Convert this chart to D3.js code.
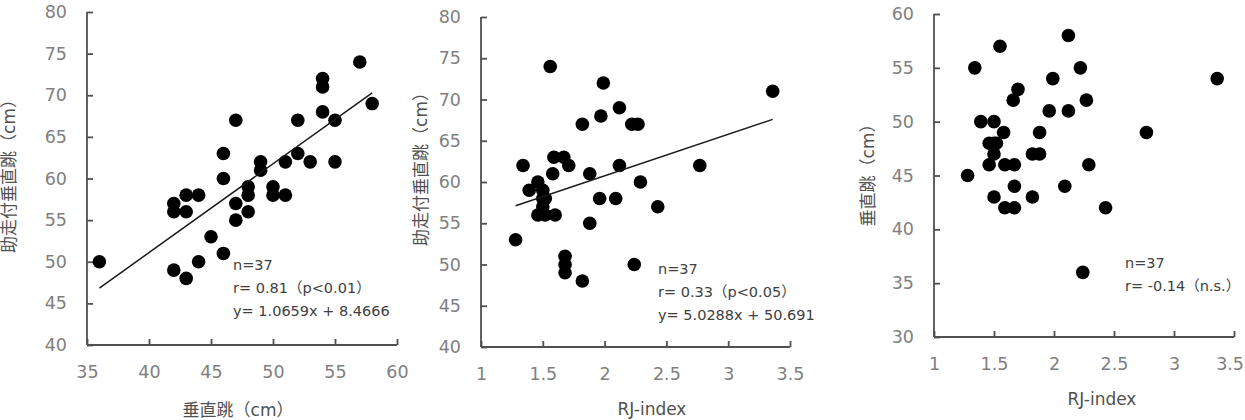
<!DOCTYPE html>
<html lang="ja">
    <head>
        <meta charset="UTF-8" />
        <title>垂直跳・助走付垂直跳・RJ-index 散布図</title>
        <script src="https://d3js.org/d3.v7.min.js"></script>
        <style>
            body { margin: 0; background: #fff; }
            svg { display: block; font-family: "DejaVu Sans", "Noto Sans CJK JP", sans-serif; }
            .tick text { fill: #808080; font-size: 17.5px; }
            .axis path, .axis line { stroke: #505050; stroke-width: 1.8px; }
            .note { fill: #404040; font-size: 14.5px; }
            .label { fill: #505050; font-size: 17px; }
        </style>
    </head>
    <body>
        <svg width="1245" height="420"></svg>

        <script>
            const W = 1245;

            // 垂直跳 vs 助走付垂直跳
            const vj1 = [36, 42, 42, 42, 43, 43, 43, 44, 44, 45, 46, 46, 46, 47, 47, 47, 48, 48, 48, 49, 49, 50, 50, 51, 51, 52, 52, 53, 54, 54, 54, 55, 55, 57, 58];
            const rvj1 = [50, 57, 56, 49, 58, 56, 48, 58, 50, 53, 63, 60, 51, 67, 57, 55, 59, 58, 56, 62, 61, 59, 58, 62, 58, 67, 63, 62, 72, 71, 68, 67, 62, 74, 69];

            // RJ-index vs 助走付垂直跳
            const rj2 = [1.28, 1.34, 1.39, 1.46, 1.46, 1.5, 1.5, 1.52, 1.5, 1.52, 1.56, 1.58, 1.59, 1.6, 1.67, 1.71, 1.68, 1.68, 1.68, 1.82, 1.82, 1.88, 1.88, 1.96, 1.97, 1.99, 2.09, 2.12, 2.12, 2.22, 2.27, 2.24, 2.29, 2.43, 2.77, 3.36];
            const rvj2 = [53, 62, 59, 60, 56, 59, 58, 56, 57, 58, 74, 61, 63, 56, 63, 62, 51, 50, 49, 67, 48, 61, 55, 58, 68, 72, 58, 69, 62, 67, 67, 50, 60, 57, 62, 71];

            // RJ-index vs 垂直跳
            const rj3 = [1.28, 1.34, 1.39, 1.46, 1.46, 1.5, 1.5, 1.52, 1.5, 1.5, 1.55, 1.58, 1.59, 1.59, 1.66, 1.67, 1.67, 1.67, 1.7, 1.82, 1.82, 1.88, 1.88, 1.96, 1.99, 2.09, 2.12, 2.12, 2.22, 2.24, 2.27, 2.29, 2.43, 2.77, 3.36];
            const vj3 = [45, 55, 50, 48, 46, 50, 48, 48, 47, 43, 57, 49, 46, 42, 52, 42, 46, 44, 53, 47, 43, 49, 47, 51, 54, 44, 58, 51, 55, 36, 52, 46, 42, 49, 54];

            const notes1 = ["n=37", "r= 0.81（p<0.01）", "y= 1.0659x + 8.4666"];
            const notes2 = ["n=37", "r= 0.33（p<0.05）", "y= 5.0288x + 50.691"];
            const notes3 = ["n=37", "r= -0.14（n.s.）"];

            const svg = d3.select("svg");

            const panels = [
                {
                    xs: vj1, ys: rvj1, left: 87, right: 397, top: 12, bottom: 345,
                    xDom: [35, 60], xTicks: d3.range(35, 61, 5), yDom: [40, 80], yTicks: d3.range(40, 81, 5),
                    fit: [1.0659, 8.4666], notes: notes1, noteX: 233, noteY: 270,
                    xLabel: "垂直跳（cm）", xLabelX: 238, xLabelY: 416,
                    yLabel: "助走付垂直跳（cm）", yLabelX: 9, yLabelY: 172
                },
                {
                    xs: rj2, ys: rvj2, left: 481, right: 790, top: 17, bottom: 347,
                    xDom: [1, 3.5], xTicks: d3.range(1, 3.51, 0.5), yDom: [40, 80], yTicks: d3.range(40, 81, 5),
                    fit: [5.0288, 50.691], notes: notes2, noteX: 658, noteY: 274,
                    xLabel: "RJ-index", xLabelX: 652, xLabelY: 415,
                    yLabel: "助走付垂直跳（cm）", yLabelX: 421, yLabelY: 165
                },
                {
                    xs: rj3, ys: vj3, left: 934, right: 1234, top: 14, bottom: 337,
                    xDom: [1, 3.5], xTicks: d3.range(1, 3.51, 0.5), yDom: [30, 60], yTicks: d3.range(30, 61, 5),
                    fit: null, notes: notes3, noteX: 1125, noteY: 268,
                    xLabel: "RJ-index", xLabelX: 1102, xLabelY: 405,
                    yLabel: "垂直跳（cm）", yLabelX: 868, yLabelY: 171
                }
            ];

            panels.forEach((p) => {
                const x = d3.scaleLinear().domain(p.xDom).range([p.left, p.right]);
                const y = d3.scaleLinear().domain(p.yDom).range([p.bottom, p.top]);
                const g = svg.append("g");

                // 軸（目盛は内向き）
                g.append("g")
                    .attr("class", "axis")
                    .attr("transform", `translate(0,${p.bottom})`)
                    .call(d3.axisTop(x).tickValues(p.xTicks).tickSize(6).tickFormat(d3.format("")))
                    .call((a) => a.select(".domain").attr("d", `M${p.left},0H${p.right}`))
                    .call((a) => a.selectAll(".tick text").attr("y", 32.5).attr("dy", null));

                g.append("g")
                    .attr("class", "axis")
                    .attr("transform", `translate(${p.left},0)`)
                    .call(d3.axisRight(y).tickValues(p.yTicks).tickSize(6).tickFormat(d3.format("d")))
                    .call((a) => a.select(".domain").attr("d", `M0,${p.top}V${p.bottom}`))
                    .call((a) => a.selectAll(".tick text").attr("text-anchor", "end").attr("x", -20));

                g.selectAll(".axis").attr("font-size", null).attr("font-family", null);

                // 右端からはみ出す目盛ラベルを内側に寄せる
                g.selectAll(".tick text").each(function (d) {
                    const b = this.getBBox();
                    const tx = d3.select(this.parentNode).attr("transform");
                    const m = /translate\(([-\d.]+)/.exec(tx);
                    const ox = m ? +m[1] : 0;
                    if (ox + b.x + b.width > W - 1) {
                        d3.select(this).attr("text-anchor", "end").attr("x", W - 1 - ox);
                    }
                });

                // 点
                g.append("g")
                    .selectAll("circle")
                    .data(p.xs.map((v, i) => [v, p.ys[i]]))
                    .join("circle")
                    .attr("cx", (d) => x(d[0]))
                    .attr("cy", (d) => y(d[1]))
                    .attr("r", 6.8)
                    .attr("fill", "#000");

                // 回帰直線
                if (p.fit) {
                    const ext = d3.extent(p.xs);
                    g.append("line")
                        .attr("x1", x(ext[0]))
                        .attr("y1", y(p.fit[0] * ext[0] + p.fit[1]))
                        .attr("x2", x(ext[1]))
                        .attr("y2", y(p.fit[0] * ext[1] + p.fit[1]))
                        .attr("stroke", "#1a1a1a")
                        .attr("stroke-width", 1.5);
                }

                // 注記
                g.append("g")
                    .selectAll("text")
                    .data(p.notes)
                    .join("text")
                    .attr("class", "note")
                    .attr("x", p.noteX)
                    .attr("y", (d, i) => p.noteY + i * 23)
                    .text((d) => d);

                g.append("text")
                    .attr("class", "label")
                    .attr("x", p.xLabelX)
                    .attr("y", p.xLabelY)
                    .attr("text-anchor", "middle")
                    .text(p.xLabel);

                g.append("text")
                    .attr("class", "label")
                    .attr("transform", `translate(${p.yLabelX},${p.yLabelY}) rotate(-90)`)
                    .attr("text-anchor", "middle")
                    .attr("dy", "0.35em")
                    .text(p.yLabel);
            });
        </script>
    </body>
</html>
